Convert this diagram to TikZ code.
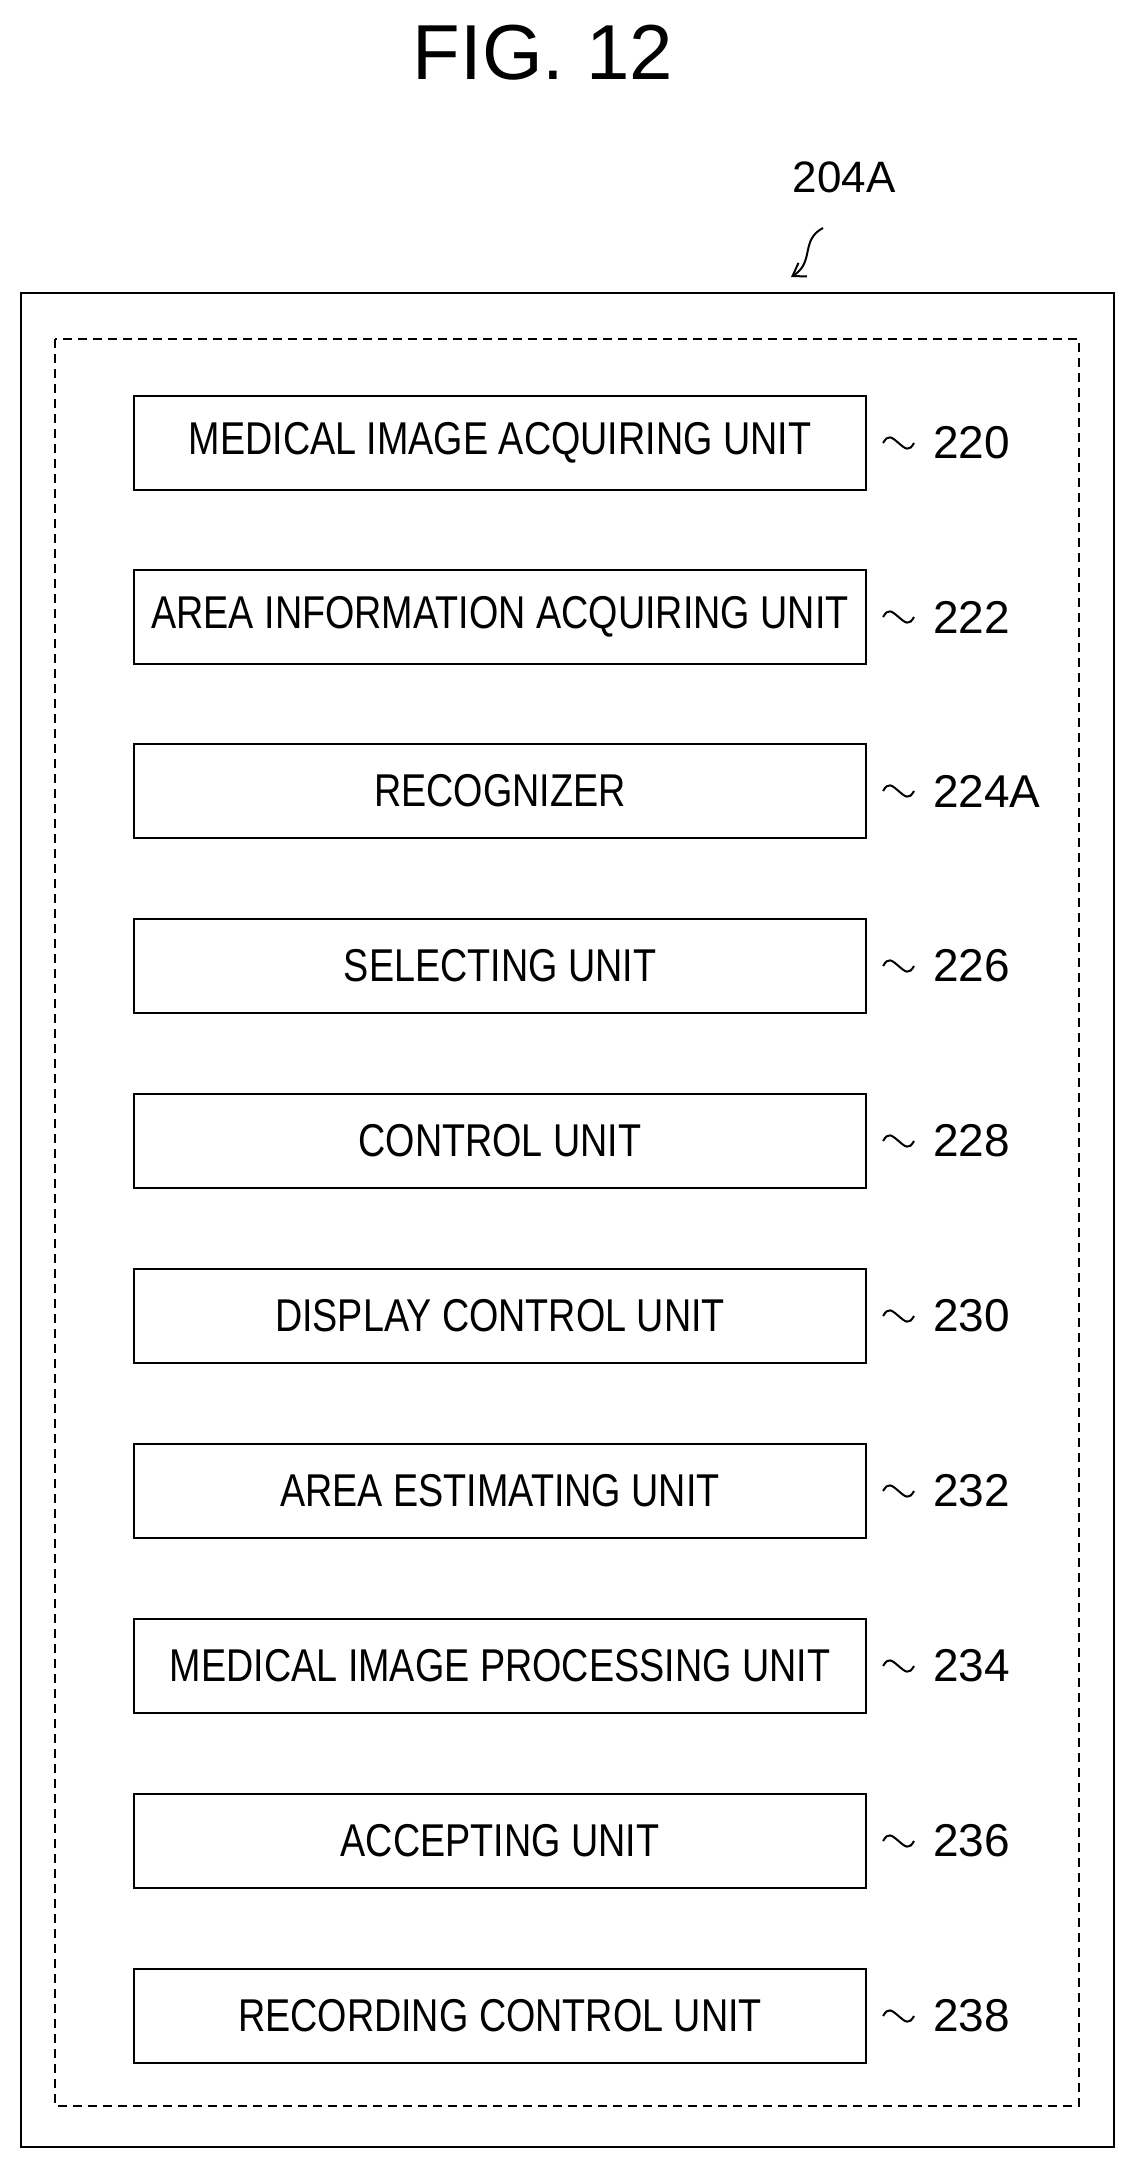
\documentclass[tikz,border=0pt]{standalone}
\usepackage{fontspec}
\setmainfont{Liberation Sans}
\newfontfamily\narrowf[FakeStretch=0.82]{Liberation Sans}
\usetikzlibrary{arrows.meta,calc}
\begin{document}
\begin{tikzpicture}[x=1pt,y=-1pt,
  unit/.style={draw,line width=2.2pt,minimum width=732pt,minimum height=94pt,inner sep=0pt,
    font=\narrowf\fontsize{46}{50}\selectfont},
  ref/.style={anchor=west,font=\fontsize{46}{50}\selectfont,inner sep=0pt},
  tld/.style={line width=2pt}]
\useasboundingbox (0,0) rectangle (1129,2159);
\node[font=\fontsize{78}{84}\selectfont] (title) at (543,53) {FIG. 12};
\node[font=\fontsize{44}{48}\selectfont] (lbl) at (844,177) {204A};
\draw[line width=2pt] (21,293) rectangle (1114,2147);
\draw[line width=1.6pt,dash pattern=on 9pt off 6pt] (55,339) rectangle (1079,2106);
\coordinate (as) at (823,228);
\coordinate (ae) at (791,277);
\draw[line width=2pt,-{Straight Barb[length=12pt,width=16pt]}] (as) .. controls (800,240) and (815,262) .. (ae);
\foreach \y/\t/\n [count=\i] in {443/MEDICAL IMAGE ACQUIRING UNIT/220,617/AREA INFORMATION ACQUIRING UNIT/222,791/RECOGNIZER/224A,966/SELECTING UNIT/226,1141/CONTROL UNIT/228,1316/DISPLAY CONTROL UNIT/230,1491/AREA ESTIMATING UNIT/232,1666/MEDICAL IMAGE PROCESSING UNIT/234,1841/ACCEPTING UNIT/236,2016/RECORDING CONTROL UNIT/238}{
  \node[unit] (u\i) at (500,\y) {\t};
  \node[ref] (r\i) at (933,\y) {\n};
  \coordinate (ts\i) at ([xshift=16pt]u\i.east);
  \coordinate (te\i) at ([xshift=-19pt]r\i.west);
  \draw[tld] (ts\i) .. controls +(5,-9) and +(-7,-6) .. ($(ts\i)!0.5!(te\i)$) .. controls +(7,6) and +(-5,9) .. (te\i);
}
\end{tikzpicture}
\end{document}
